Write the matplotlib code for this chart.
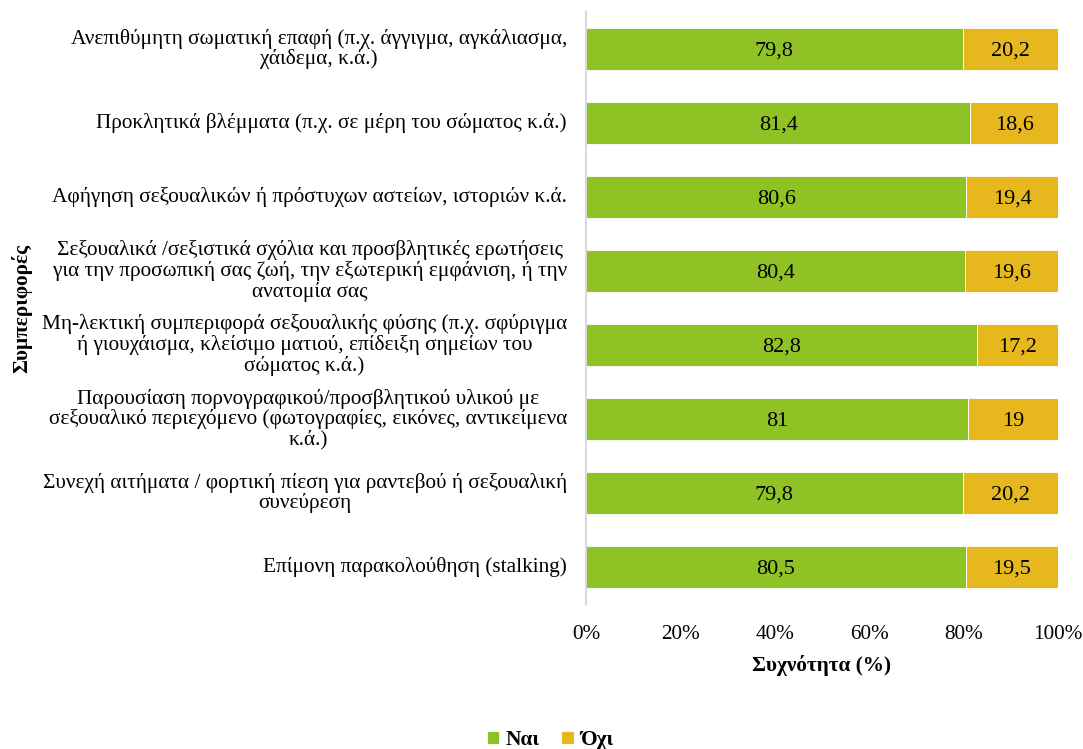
import matplotlib
matplotlib.use("Agg")
import matplotlib.pyplot as plt
import matplotlib.transforms as mtransforms
import numpy as np

plt.rcParams['font.family'] = ['Liberation Serif', 'DejaVu Serif']

categories = [
    "Ανεπιθύμητη σωματική επαφή (π.χ. άγγιγμα, αγκάλιασμα,\nχάιδεμα, κ.ά.)",
    "Προκλητικά βλέμματα (π.χ. σε μέρη του σώματος κ.ά.)",
    "Αφήγηση σεξουαλικών ή πρόστυχων αστείων, ιστοριών κ.ά.",
    "Σεξουαλικά /σεξιστικά σχόλια και προσβλητικές ερωτήσεις\nγια την προσωπική σας ζωή, την εξωτερική εμφάνιση, ή την\nανατομία σας",
    "Μη-λεκτική συμπεριφορά σεξουαλικής φύσης (π.χ. σφύριγμα\nή γιουχάισμα, κλείσιμο ματιού, επίδειξη σημείων του\nσώματος κ.ά.)",
    "Παρουσίαση πορνογραφικού/προσβλητικού υλικού με\nσεξουαλικό περιεχόμενο (φωτογραφίες, εικόνες, αντικείμενα\nκ.ά.)",
    "Συνεχή αιτήματα / φορτική πίεση για ραντεβού ή σεξουαλική\nσυνεύρεση",
    "Επίμονη παρακολούθηση (stalking)",
]
yes_vals = [79.8, 81.4, 80.6, 80.4, 82.8, 81, 79.8, 80.5]
no_vals = [20.2, 18.6, 19.4, 19.6, 17.2, 19, 20.2, 19.5]
yes_labels = ["79,8", "81,4", "80,6", "80,4", "82,8", "81", "79,8", "80,5"]
no_labels = ["20,2", "18,6", "19,4", "19,6", "17,2", "19", "20,2", "19,5"]
series_names = ["Ναι", "Όχι"]
xticks = [0, 20, 40, 60, 80, 100]
xtick_labels = ["0%", "20%", "40%", "60%", "80%", "100%"]

green = "#8fc224"
yellow = "#e6b81e"
FS = 15.3

fig = plt.figure(figsize=(10.83, 7.49), dpi=100)
ax = fig.add_axes([586/1083, 1-604/749, (1058-586)/1083, (604-12)/749])

y = np.arange(len(categories))
h = 0.555
b1 = ax.barh(y, yes_vals, height=h, color=green, label=series_names[0], edgecolor='white', linewidth=0.6)
b2 = ax.barh(y, no_vals, left=yes_vals, height=h, color=yellow, label=series_names[1], edgecolor='white', linewidth=0.6)
for i in range(len(categories)):
    ax.text(yes_vals[i]/2, y[i], yes_labels[i], ha='center', va='center_baseline', fontsize=16)
    ax.text(yes_vals[i] + no_vals[i]/2, y[i], no_labels[i], ha='center', va='center_baseline', fontsize=16)

ax.set_xlim(0, 100)
ax.set_ylim(len(categories)-0.5, -0.5)
ax.set_yticks(y)
ax.set_yticklabels([])
# category labels: right-aligned block, centred lines
off = mtransforms.offset_copy(ax.get_yaxis_transform(), fig=fig, x=-19, y=0, units='dots')
for i, c in enumerate(categories):
    ax.text(0, y[i], c, transform=off, ha='right', va='center', multialignment='center',
            fontsize=FS, linespacing=1.05)
ax.set_xticks(xticks)
ax.set_xticklabels(xtick_labels, fontsize=FS)
ax.tick_params(axis='both', length=0)
ax.tick_params(axis='x', pad=15)
for s in ['top', 'right', 'bottom']:
    ax.spines[s].set_visible(False)
ax.spines['left'].set_color('#d9d9d9')
ax.spines['left'].set_linewidth(1.5)

ax.set_xlabel("Συχνότητα (%)", fontsize=FS, fontweight='bold', labelpad=8)
fig.text(22/1083, 1-308/749, "Συμπεριφορές", rotation=90, fontsize=FS, fontweight='bold', ha='center', va='center')

fig.legend(handles=[b1, b2], labels=series_names, loc='center', bbox_to_anchor=(550/1083, 1-740/749),
           ncol=2, frameon=False, handlelength=0.6, handleheight=0.6, handletextpad=0.3,
           columnspacing=1.0, prop={'weight': 'bold', 'size': FS})

fig.savefig("out.png", dpi=100)
